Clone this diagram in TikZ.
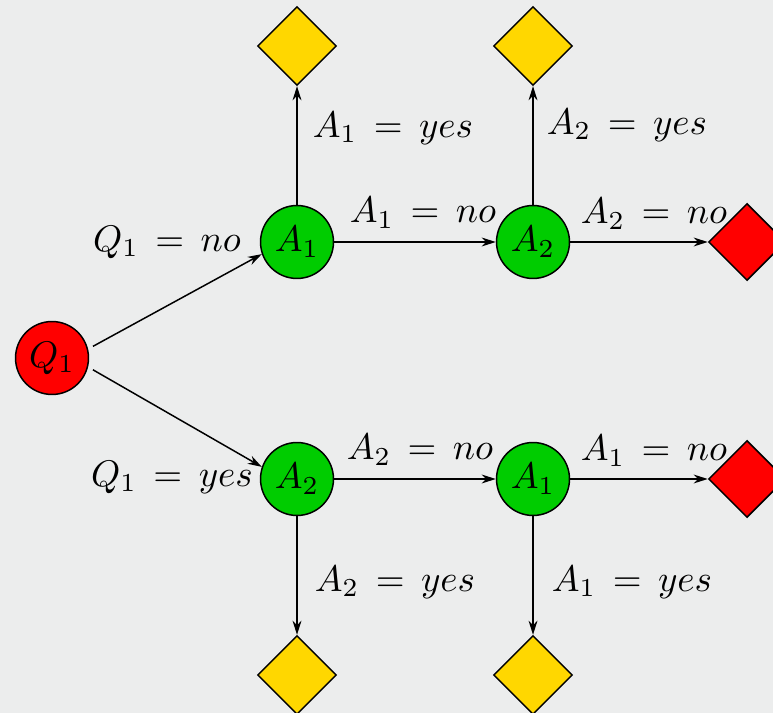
\documentclass[tikz,border=0pt]{standalone}
\usetikzlibrary{shapes.geometric,arrows.meta}
\definecolor{paper}{RGB}{236,237,237}
\definecolor{attrgreen}{RGB}{0,204,0}
\definecolor{leafgold}{RGB}{255,215,0}
\begin{document}
\begin{tikzpicture}[x=0.27pt,y=-0.27pt,
    question/.style={circle,draw=black,fill=red,minimum size=19.7pt,inner sep=0pt},
    attr/.style={circle,draw=black,fill=attrgreen,minimum size=19.7pt,inner sep=0pt},
    yesleaf/.style={diamond,draw=black,fill=leafgold,minimum size=21.3pt,inner sep=0pt},
    noleaf/.style={diamond,draw=black,fill=red,minimum size=20.8pt,inner sep=0pt},
    choice/.style={-{Stealth[length=3.8pt,width=2.4pt]}},
    cond/.style={inner sep=0pt}
]
    \fill[paper] (0,0) rectangle (773,713);
    \useasboundingbox (0,0) rectangle (773,713);
    \clip (0,0) rectangle (773,713);

    % question and attribute tests
    \node[question] (q1) at (52,358) {$Q_1$};
    \node[attr] (a1) at (297,242) {$A_1$};
    \node[attr] (a2) at (533,242) {$A_2$};
    \node[attr] (b2) at (297,479) {$A_2$};
    \node[attr] (b1) at (533,479) {$A_1$};

    % leaves
    \node[yesleaf] (y1) at (297,46) {};
    \node[yesleaf] (y2) at (533,46) {};
    \node[yesleaf] (y3) at (297,675) {};
    \node[yesleaf] (y4) at (533,675) {};
    \node[noleaf] (n1) at (747,242) {};
    \node[noleaf] (n2) at (747,479) {};

    % branches
    \draw[choice,shorten <=1.5pt] (q1.14) -- (a1.199);
    \draw[choice,shorten <=1.5pt] (q1.-14) -- (b2.161);
    \draw[choice] (a1) -- (a2);
    \draw[choice] (a2) -- (n1);
    \draw[choice] (a1) -- (y1);
    \draw[choice] (a2) -- (y2);
    \draw[choice] (b2) -- (b1);
    \draw[choice] (b1) -- (n2);
    \draw[choice] (b2) -- (y3);
    \draw[choice] (b1) -- (y4);

    % branch conditions
    \node[cond] (c1) at (167,242) {$Q_1 \,=\, no$};
    \node[cond] (c2) at (172,477) {$Q_1 \,=\, yes$};
    \node[cond] (c3) at (423,213) {$A_1 \,=\, no$};
    \node[cond] (c4) at (654,214) {$A_2 \,=\, no$};
    \node[cond] (c5) at (393,128) {$A_1 \,=\, yes$};
    \node[cond] (c6) at (627,125) {$A_2 \,=\, yes$};
    \node[cond] (c7) at (420,450) {$A_2 \,=\, no$};
    \node[cond] (c8) at (654,451) {$A_1 \,=\, no$};
    \node[cond] (c9) at (395,582) {$A_2 \,=\, yes$};
    \node[cond] (c10) at (632,582) {$A_1 \,=\, yes$};
\end{tikzpicture}
\end{document}
